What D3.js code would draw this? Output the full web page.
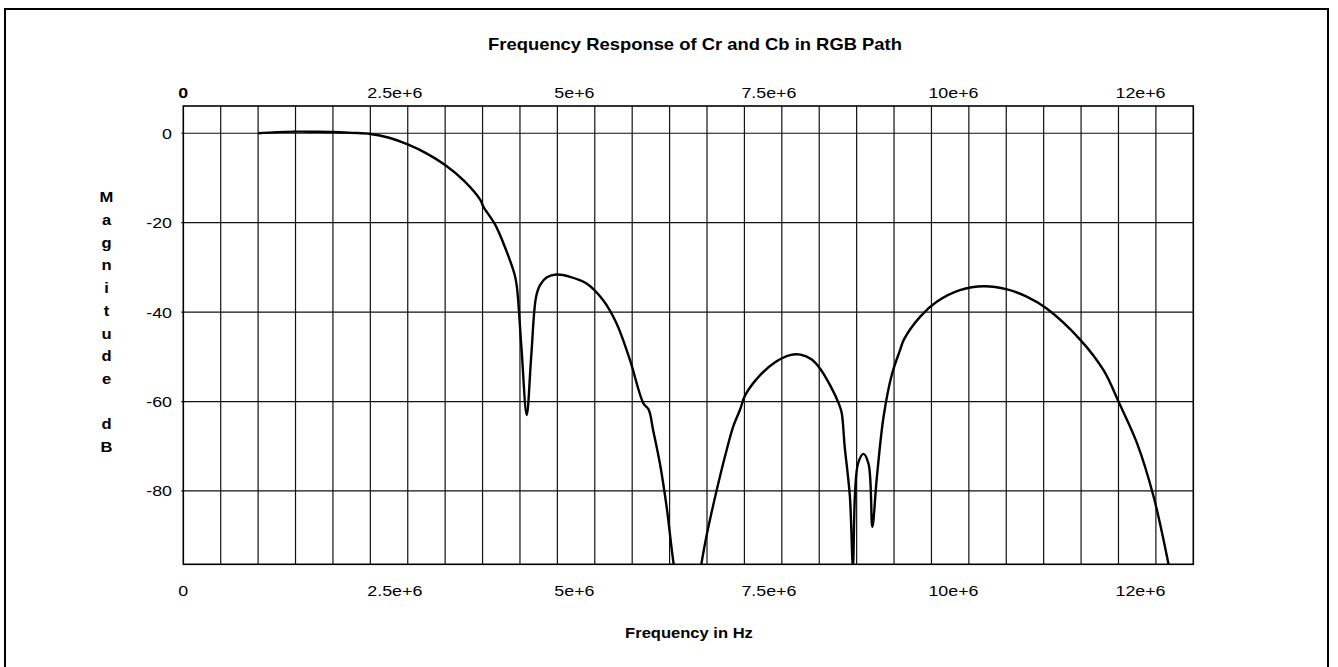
<!DOCTYPE html>
<html>
<head>
<meta charset="utf-8">
<script src="https://cdn.jsdelivr.net/npm/d3@7"></script>
<style>
  html, body { margin: 0; padding: 0; background: #fff; }
  svg text { font-family: "Liberation Sans", Arial, Helvetica, sans-serif; fill: #000; }
</style>
</head>
<body>
<svg id="chart" width="1338" height="667"></svg>
<script>
// ---- data ----
const title = "Frequency Response of Cr and Cb in RGB Path";
const xLabel = "Frequency in Hz";
const yLabelLetters = ["M","a","g","n","i","t","u","d","e","","d","B"];

const xTickValues = [0, 2.5e6, 5e6, 7.5e6, 10e6, 12.5e6];
const xTickLabels = ["0", "2.5e+6", "5e+6", "7.5e+6", "10e+6", "12e+6"];
const yTickValues = [0, -20, -40, -60, -80];
const yTickLabels = ["0", "-20", "-40", "-60", "-80"];

const freqMHz = [
  1.00, 1.25, 1.50, 1.75, 2.00, 2.25, 2.50, 2.75, 3.00, 3.25, 3.50, 3.75, 3.97, 4.01,
  4.17, 4.30, 4.43, 4.46, 4.52, 4.59, 4.65, 4.715, 4.77, 4.86, 4.99, 5.17, 5.39, 5.61,
  5.79, 5.97, 6.15, 6.22, 6.28, 6.37, 6.46, 6.56, 6.75, 6.93, 7.00, 7.13, 7.24, 7.35,
  7.44, 7.51, 7.71, 7.91, 8.11, 8.25, 8.40, 8.51, 8.65, 8.76, 8.80, 8.84, 8.91, 8.95,
  8.98, 9.02, 9.09, 9.16, 9.21, 9.27, 9.36, 9.47, 9.58, 9.63, 9.85, 10.07, 10.38, 10.70,
  11.01, 11.28, 11.54, 11.99, 12.30, 12.50, 12.75, 12.97, 13.18
];
const magnitudeDb = [
  0, 0.25, 0.36, 0.35, 0.3, 0.1, -0.15, -1.0, -2.5, -4.5, -7.1, -10.6, -14.9, -16.4,
  -20.5, -25.5, -31.7, -34.5, -48, -63, -50, -36.6, -33.9, -32.2, -31.6, -32.1, -33.6, -37.3,
  -42.5, -50.7, -60.4, -61.8, -66.4, -73.8, -83.5, -97, -115, -95.8, -89.5, -79.8, -72.3, -65.6,
  -61.9, -58.6, -54.1, -51.2, -49.6, -49.5, -50.6, -52.6, -56.5, -60.4, -62.5, -70, -81.3, -97,
  -80, -73.8, -71.7, -74, -88, -77, -63.4, -54, -48.5, -46.2, -41, -37.7, -35.1, -34.2,
  -34.9, -36.6, -39.2, -46.2, -53, -60, -69.4, -81.3, -97.3
];

// ---- layout ----
const svg = d3.select("#chart");
const plot = { left: 183.3, right: 1193.3, top: 106, bottom: 564.3 };
const SX = 1.15; // horizontal stretch of the reference font

const x = d3.scaleLinear().domain([0, 13.5e6]).range([plot.left, plot.right]);
const y = d3.scaleLinear().domain([-96.4, 6.1]).range([plot.bottom, plot.top]);

function stretchedText(g, tx, ty, txt, opts) {
  return g.append("text")
    .attr("transform", `translate(${tx},${ty}) scale(${SX},1)`)
    .attr("text-anchor", opts.anchor || "middle")
    .style("font-size", opts.size + "px")
    .style("font-weight", opts.weight || "normal")
    .text(txt);
}

// outer frame
svg.append("rect")
  .attr("x", 5).attr("y", 9).attr("width", 1323).attr("height", 700)
  .attr("fill", "none").attr("stroke", "#000").attr("stroke-width", 2);

// grid
const gridX = d3.range(0.5e6, 13.5e6, 0.5e6);
svg.append("g").selectAll("line").data(gridX).join("line")
  .attr("x1", d => x(d)).attr("x2", d => x(d))
  .attr("y1", plot.top).attr("y2", plot.bottom)
  .attr("stroke", "#111").attr("stroke-width", 1.2);

svg.append("g").selectAll("line").data(yTickValues).join("line")
  .attr("x1", plot.left - 2).attr("x2", plot.right)
  .attr("y1", d => y(d)).attr("y2", d => y(d))
  .attr("stroke", "#111").attr("stroke-width", 1.2);

// plot frame
svg.append("rect")
  .attr("x", plot.left).attr("y", plot.top)
  .attr("width", plot.right - plot.left).attr("height", plot.bottom - plot.top)
  .attr("fill", "none").attr("stroke", "#000").attr("stroke-width", 1.6);

// x tick labels (top and bottom)
const labels = svg.append("g");
xTickValues.forEach((v, i) => {
  const anchor = i === 0 ? "middle" : "start";
  const dx = i === 0 ? 0 : -3;
  stretchedText(labels, x(v) + dx, 97.5, xTickLabels[i], { size: 15.5, anchor, weight: i === 0 ? "bold" : "normal" });
  stretchedText(labels, x(v) + dx, 595.5, xTickLabels[i], { size: 15.5, anchor });
});

// y tick labels
yTickValues.forEach((v, i) => {
  stretchedText(labels, 172, y(v) + 5.5, yTickLabels[i], { size: 15.5, anchor: "end" });
});

// title & axis labels
stretchedText(labels, 695, 49.5, title, { size: 16, weight: "bold" });
stretchedText(labels, 689, 637.5, xLabel, { size: 14.4, weight: "bold" });
yLabelLetters.forEach((c, i) => {
  if (c) stretchedText(labels, 106.5, 202.3 + 22.7 * i, c, { size: 14.4, weight: "bold" });
});

// curve
svg.append("defs").append("clipPath").attr("id", "plotclip")
  .append("rect").attr("x", plot.left).attr("y", plot.top - 5)
  .attr("width", plot.right - plot.left).attr("height", plot.bottom - plot.top + 5);

const pts = freqMHz.map((f, i) => [f * 1e6, magnitudeDb[i]]);
const line = d3.line().x(d => x(d[0])).y(d => y(d[1])).curve(d3.curveCatmullRom.alpha(0.5));
svg.append("path")
  .attr("clip-path", "url(#plotclip)")
  .attr("d", line(pts))
  .attr("fill", "none").attr("stroke", "#000").attr("stroke-width", 2.4)
  .attr("stroke-linejoin", "round");
</script>
</body>
</html>
